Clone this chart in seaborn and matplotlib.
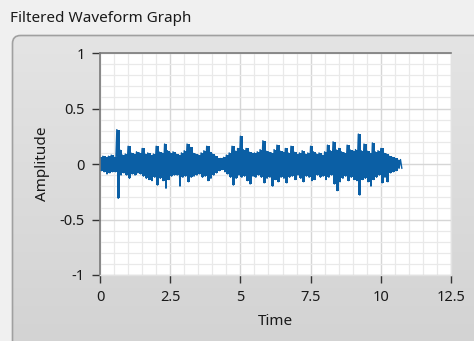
import numpy as np
import pandas as pd
import matplotlib
matplotlib.use("Agg")
import matplotlib.pyplot as plt
from matplotlib.patches import FancyBboxPatch
from matplotlib.colors import LinearSegmentedColormap
from matplotlib.ticker import MultipleLocator
import seaborn as sns

# Filtered signal: waveform start time, sample spacing (s) and the
# upper / lower excursion of the signal within each sample interval.
t0 = 0.0
dt = 0.1
upper = [
    0.06, 0.07, 0.06, 0.07, 0.08, 0.06, 0.31, 0.13, 0.08, 0.09,
    0.16, 0.10, 0.09, 0.11, 0.10, 0.14, 0.09, 0.10, 0.08, 0.09,
    0.16, 0.11, 0.10, 0.18, 0.12, 0.10, 0.11, 0.09, 0.08, 0.10,
    0.12, 0.18, 0.15, 0.10, 0.09, 0.08, 0.10, 0.12, 0.16, 0.11,
    0.09, 0.07, 0.05, 0.05, 0.06, 0.08, 0.10, 0.16, 0.12, 0.14,
    0.25, 0.13, 0.14, 0.11, 0.10, 0.10, 0.11, 0.13, 0.21, 0.12,
    0.11, 0.10, 0.13, 0.17, 0.12, 0.11, 0.14, 0.10, 0.16, 0.11,
    0.09, 0.10, 0.12, 0.09, 0.10, 0.16, 0.11, 0.09, 0.10, 0.08,
    0.11, 0.17, 0.12, 0.20, 0.13, 0.14, 0.11, 0.10, 0.17, 0.13,
    0.12, 0.13, 0.27, 0.12, 0.18, 0.12, 0.10, 0.19, 0.11, 0.12,
    0.14, 0.10, 0.09, 0.07, 0.06, 0.05, 0.04, 0.04,
]
lower = [
    -0.06, -0.07, -0.09, -0.08, -0.07, -0.07, -0.31, -0.10, -0.08, -0.10,
    -0.13, -0.09, -0.10, -0.08, -0.09, -0.11, -0.13, -0.14, -0.15, -0.12,
    -0.19, -0.13, -0.15, -0.22, -0.14, -0.11, -0.10, -0.10, -0.20, -0.12,
    -0.11, -0.16, -0.12, -0.11, -0.10, -0.09, -0.12, -0.11, -0.15, -0.13,
    -0.10, -0.08, -0.06, -0.05, -0.07, -0.09, -0.12, -0.19, -0.13, -0.10,
    -0.12, -0.11, -0.15, -0.18, -0.11, -0.12, -0.10, -0.12, -0.17, -0.13,
    -0.12, -0.20, -0.14, -0.16, -0.12, -0.13, -0.17, -0.12, -0.11, -0.14,
    -0.10, -0.13, -0.16, -0.11, -0.12, -0.15, -0.14, -0.10, -0.12, -0.11,
    -0.14, -0.12, -0.10, -0.18, -0.24, -0.16, -0.13, -0.11, -0.15, -0.12,
    -0.14, -0.15, -0.28, -0.14, -0.13, -0.16, -0.20, -0.14, -0.12, -0.10,
    -0.17, -0.12, -0.16, -0.08, -0.07, -0.06, -0.04, -0.04,
]

x_ticks = [0, 2.5, 5, 7.5, 10, 12.5]
x_tick_labels = ["0", "2.5", "5", "7.5", "10", "12.5"]
y_ticks = [-1, -0.5, 0, 0.5, 1]
y_tick_labels = ["-1", "-0.5", "0", "0.5", "1"]

WAVE = "#0b5fa5"

# Interleave the extremes so the trace sweeps top-bottom in every interval
n = len(upper)
t_samples = [t0 + k * dt for k in range(n)]
times, amps = [], []
for k in range(n):
    times += [t_samples[k], t_samples[k] + dt / 2]
    amps += [upper[k], lower[k]]
df = pd.DataFrame({"Time": times, "Amplitude": amps})

sns.set_theme(style="white")
plt.rcParams["font.family"] = ["Noto Sans", "DejaVu Sans"]

W, H = 474, 341
fig = plt.figure(figsize=(W / 100, H / 100), dpi=100)
fig.patch.set_facecolor("#f0f0f0")

# Rounded control panel behind the graph
bg = fig.add_axes([0, 0, 1, 1], zorder=-10)
bg.set_axis_off()
bg.set_xlim(0, W)
bg.set_ylim(H, 0)
grad = np.linspace(0, 1, 256)[:, None]
cmap = LinearSegmentedColormap.from_list("panel", ["#e4e4e4", "#d2d2d2"])
img = bg.imshow(grad, cmap=cmap, extent=[12, W + 20, H + 20, 35], aspect="auto")
panel = FancyBboxPatch((12.5, 35.5), W + 20, H, boxstyle="round,pad=0,rounding_size=8",
                       fc="none", ec="#a0a0a0", lw=1.2)
bg.add_patch(panel)
img.set_clip_path(panel)

fig.text(10 / W, 1 - 18 / H, "Filtered Waveform Graph", fontsize=11,
         color="#1a1a1a", ha="left", va="center")

ax = fig.add_axes([100 / W, 66 / H, 351 / W, 222 / H])
ax.set_facecolor("white")

# Solid band between the per-interval extremes, with the trace on top
ax.fill_between(t_samples, lower, upper, step="post", color=WAVE, lw=0)
sns.lineplot(data=df, x="Time", y="Amplitude", ax=ax, color=WAVE,
             lw=1.0, sort=False, estimator=None)

ax.set_xlim(0, 12.5)
ax.set_ylim(-1, 1)
ax.set_xticks(x_ticks)
ax.set_xticklabels(x_tick_labels)
ax.set_yticks(y_ticks)
ax.set_yticklabels(y_tick_labels)
ax.xaxis.set_minor_locator(MultipleLocator(0.5))
ax.yaxis.set_minor_locator(MultipleLocator(0.1))
ax.grid(which="minor", color="#e9e9e9", lw=0.9)
ax.grid(which="major", color="#d6d6d6", lw=1.0)
ax.set_axisbelow(True)

ax.tick_params(axis="both", which="major", length=6, width=1, color="#333333",
               direction="out", labelsize=10.5, labelcolor="#1a1a1a")
ax.tick_params(axis="x", which="major", pad=5)
ax.tick_params(axis="y", which="major", pad=5)
ax.tick_params(axis="both", which="minor", length=0)
ax.tick_params(left=True, bottom=True)

ax.set_xlabel("Time", fontsize=11, color="#1a1a1a", labelpad=6)
ax.set_ylabel("Amplitude", fontsize=11, color="#1a1a1a", labelpad=7)

for side in ("left", "top"):
    ax.spines[side].set_color("#7a7a7a")
    ax.spines[side].set_linewidth(1.2)
for side in ("right", "bottom"):
    ax.spines[side].set_color("#e2e2e2")
    ax.spines[side].set_linewidth(1.0)

fig.savefig("out.png", dpi=100, facecolor=fig.get_facecolor())
